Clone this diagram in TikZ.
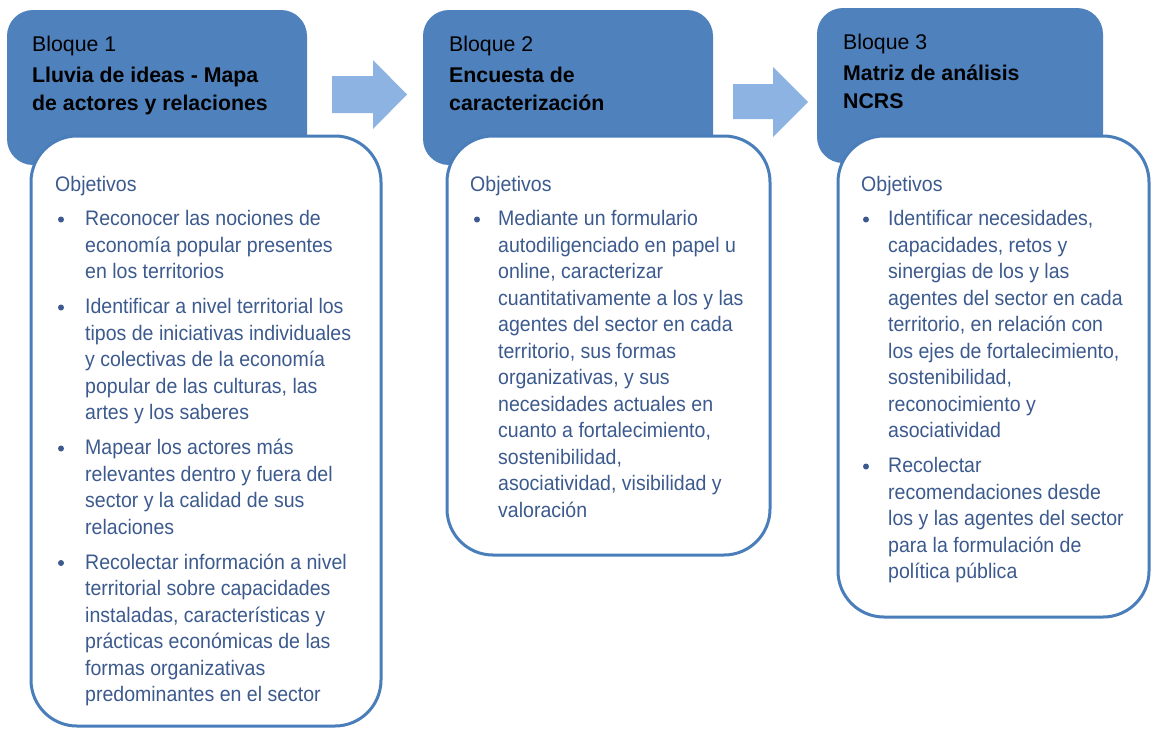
\documentclass[tikz,border=0pt]{standalone}
\usepackage{fontspec}
\setmainfont{Liberation Sans}
\newfontfamily\bodyfont[FakeStretch=0.93]{Liberation Sans}
\definecolor{hdr}{RGB}{79,129,189}
\definecolor{brd}{RGB}{74,126,187}
\definecolor{arr}{RGB}{141,179,226}
\definecolor{txt}{RGB}{60,90,142}
\newcommand\txtlines[5]{%
  \foreach \t [count=\i from 0] in {#5} {\node[#4] (#1-\i) at (#2, #3+26.5*\i) {\t};}}
\begin{document}
\begin{tikzpicture}[x=1pt,y=-1pt,
  hdrbox/.style={fill=hdr, rounded corners=26pt},
  objbox/.style={draw=brd, line width=3pt, fill=white, rounded corners=46pt},
  arrowshape/.style={fill=arr},
  hd/.style={font=\fontsize{21.3}{28}\selectfont, anchor=base west, inner sep=0pt, text=black},
  hdb/.style={hd, font=\fontsize{21.3}{28}\selectfont\bfseries},
  bd/.style={font=\bodyfont\fontsize{21}{26.5}\selectfont, anchor=base west, inner sep=0pt, text=txt},
  dot/.style={circle, fill=txt, inner sep=0pt, minimum size=6pt}]
\useasboundingbox (0,0) rectangle (1151,729);

% arrows
\fill[arrowshape] (332,76) -- (373,76) -- (373,60) -- (407,94.5) -- (373,129) -- (373,113) -- (332,113) -- cycle;
\fill[arrowshape] (733,84) -- (773,84) -- (773,67) -- (808,102) -- (773,137) -- (773,119) -- (733,119) -- cycle;

% Block 1
\fill[hdrbox] (7,10) rectangle (307,165);
\draw[objbox] (31,136) rectangle (381,726);
\node[hd] (h1a) at (32,51) {Bloque 1};
\node[hdb] (h1b) at (32,82) {Lluvia de ideas - Mapa};
\node[hdb] (h1c) at (32,110) {de actores y relaciones};
\node[bd] (o1) at (55,191) {Objetivos};
\txtlines{a1}{85}{225.5}{bd}{Reconocer las nociones de, economía popular presentes, en los territorios}
\txtlines{a2}{85}{313.5}{bd}{Identificar a nivel territorial los, tipos de iniciativas individuales, y colectivas de la economía, {popular de las culturas, las}, artes y los saberes}
\txtlines{a3}{85}{454.5}{bd}{Mapear los actores más, relevantes dentro y fuera del, sector y la calidad de sus, relaciones}
\txtlines{a4}{85}{569}{bd}{Recolectar información a nivel, territorial sobre capacidades, {instaladas, características y}, prácticas económicas de las, formas organizativas, predominantes en el sector}
\node[dot] (d1a) at (61,219.5) {};
\node[dot] (d1b) at (61,307.5) {};
\node[dot] (d1c) at (61,448.5) {};
\node[dot] (d1d) at (61,563) {};

% Block 2
\fill[hdrbox] (423,10) rectangle (713,165);
\draw[objbox] (447,136) rectangle (770,555);
\node[hd] (h2a) at (449,51) {Bloque 2};
\node[hdb] (h2b) at (449,82) {Encuesta de};
\node[hdb] (h2c) at (449,110) {caracterización};
\node[bd] (o2) at (470,191) {Objetivos};
\txtlines{b1}{498}{225.5}{bd}{Mediante un formulario, autodiligenciado en papel u, {online, caracterizar}, cuantitativamente a los y las, agentes del sector en cada, {territorio, sus formas}, {organizativas, y sus}, necesidades actuales en, {cuanto a fortalecimiento,}, {sostenibilidad,}, {asociatividad, visibilidad y}, valoración}
\node[dot] (d2a) at (477,219.5) {};

% Block 3
\fill[hdrbox] (817,8) rectangle (1103,163);
\draw[objbox] (838,136) rectangle (1149,617);
\node[hd] (h3a) at (843,49) {Bloque 3};
\node[hdb] (h3b) at (843,80) {Matriz de análisis};
\node[hdb] (h3c) at (843,108) {NCRS};
\node[bd] (o3) at (861,191) {Objetivos};
\txtlines{c1}{888}{225.5}{bd}{{Identificar necesidades,}, {capacidades, retos y}, sinergias de los y las, agentes del sector en cada, {territorio, en relación con}, {los ejes de fortalecimiento,}, {sostenibilidad,}, reconocimiento y, asociatividad}
\txtlines{c2}{888}{472.5}{bd}{Recolectar, recomendaciones desde, los y las agentes del sector, para la formulación de, política pública}
\node[dot] (d3a) at (866,219.5) {};
\node[dot] (d3b) at (866,466.5) {};
\end{tikzpicture}
\end{document}
